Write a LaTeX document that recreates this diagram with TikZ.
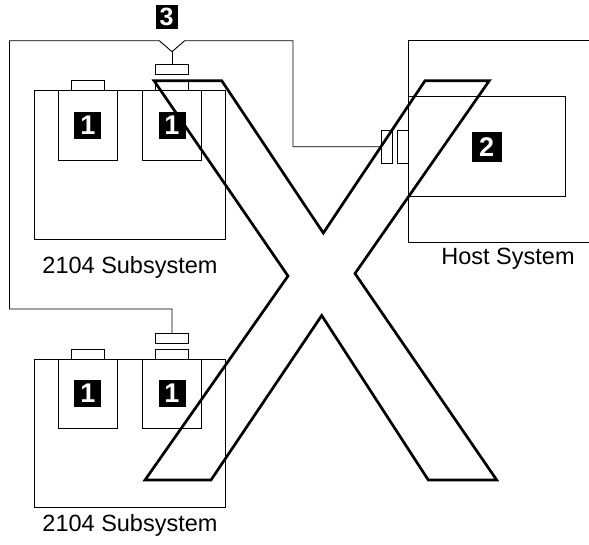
\documentclass[tikz,border=0pt]{standalone}
\usepackage{fontspec}
\setmainfont{Liberation Sans}
\usetikzlibrary{positioning}

\begin{document}
\begin{tikzpicture}[
  x=1pt, y=-1pt,
  unit/.style={draw,line width=0.9pt,rectangle,inner sep=0pt,outer sep=0pt,anchor=north west},
  drive/.style={unit,minimum width=59pt,minimum height=70pt},
  tab/.style={unit,minimum width=33pt,minimum height=10pt},
  badge/.style={fill=black,text=white,inner sep=0pt,minimum width=27pt,minimum height=27pt,
    font=\fontsize{27}{28}\selectfont\bfseries},
  caption/.style={anchor=base,font=\fontsize{23.5}{28}\selectfont},
  cable/.style={draw,line width=0.9pt},
  cross/.style={draw,line width=2.7pt,line join=miter}
]
  \useasboundingbox (0,0) rectangle (589,544);

  % first 2104 subsystem
  \node[unit,minimum width=191.4pt,minimum height=148.3pt] (subA) at (34.3,90.7) {};
  \node[drive] (driveA1) at (58.3,90.7) {};
  \node[drive] (driveA2) at (142.5,90.7) {};
  \node[tab,above=0pt of driveA1] (tabA1) {};
  \node[tab,above=0pt of driveA2] (tabA2) {};
  \node[tab,above=6.4pt of tabA2] (plugA) {};
  \node[badge] (badgeA1) at (driveA1.center) {1};
  \node[badge] (badgeA2) at (driveA2.center) {1};
  \node[caption] (capA) at (130,273.5) {2104 Subsystem};

  % second 2104 subsystem
  \node[unit,minimum width=191.4pt,minimum height=148.7pt] (subB) at (34.3,359) {};
  \node[drive,minimum height=69.3pt] (driveB1) at (58.3,359) {};
  \node[drive,minimum height=69.3pt] (driveB2) at (142.5,359) {};
  \node[tab,above=0pt of driveB1] (tabB1) {};
  \node[tab,above=0pt of driveB2] (tabB2) {};
  \node[tab,above=6pt of tabB2] (plugB) {};
  \node[badge] (badgeB1) at (driveB1.center) {1};
  \node[badge] (badgeB2) at (driveB2.center) {1};
  \node[caption] (capB) at (130,531) {2104 Subsystem};

  % host system
  \draw[cable] (589,40.7) -| (408.3,242.3) -- (589,242.3);
  \node[unit,minimum width=156.7pt,minimum height=100pt] (hostCard) at (408.3,96.7) {};
  \node[unit,anchor=east,minimum width=10.6pt,minimum height=33.3pt] (conB) at (hostCard.west|-0,146.7) {};
  \node[unit,left=5.4pt of conB,minimum width=10.6pt,minimum height=33.3pt] (conA) {};
  \node[badge,minimum width=30pt,minimum height=30pt] (badgeC) at (hostCard.center) {2};
  \node[caption] (capC) at (508,264) {Host System};

  % cable with the tap
  \coordinate (tap) at (172,51.7);
  \node[badge,minimum width=22pt,minimum height=24pt,font=\fontsize{25}{26}\selectfont\bfseries] (badgeD) at (166.5,16.5) {3};
  \draw[cable] (plugB.north) |- (9.5,309) |- (159.3,40.7) -- (tap) -- (184.7,40.7)
    -| (293,146.7) -- (conA.west);
  \draw[cable] (tap) -- (plugA.north);

  % the big X
  \coordinate (aTL) at (154,80.7);
  \coordinate (aTR) at (221.7,80.7);
  \coordinate (aBL) at (428.3,480);
  \coordinate (aBR) at (496.7,480);
  \coordinate (bTL) at (425,80.7);
  \coordinate (bTR) at (489.3,80.7);
  \coordinate (bBL) at (145,480);
  \coordinate (bBR) at (211,480);
  \coordinate (nTop) at (323.3,233);
  \coordinate (nRight) at (355,273.5);
  \coordinate (nBottom) at (321.7,315.5);
  \coordinate (nLeft) at (288,276);
  \draw[cross] (aTL) -- (aTR) -- (nTop) -- (bTL) -- (bTR) -- (nRight) -- (aBR) -- (aBL)
    -- (nBottom) -- (bBR) -- (bBL) -- (nLeft) -- cycle;
\end{tikzpicture}
\end{document}
